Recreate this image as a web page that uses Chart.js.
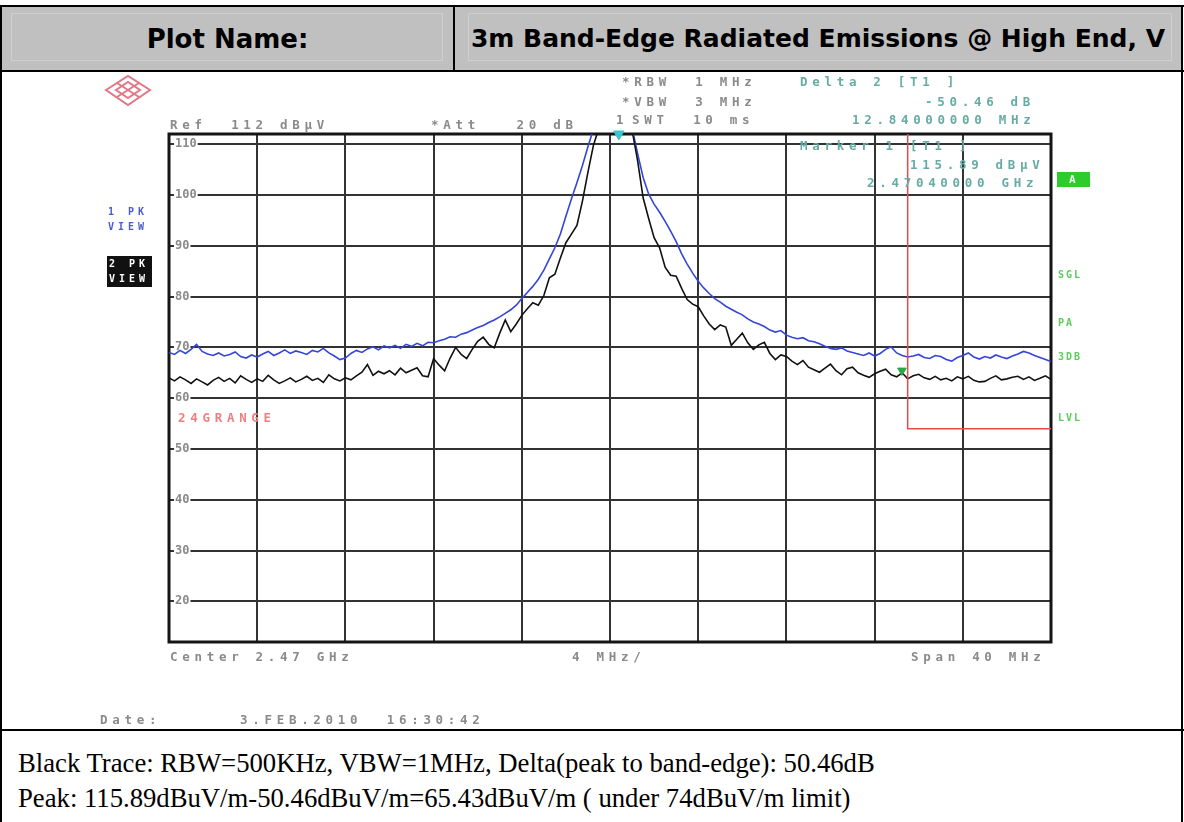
<!DOCTYPE html>
<html>
<head>
<meta charset="utf-8">
<title>3m Band-Edge Radiated Emissions @ High End, V</title>
<script src="https://cdn.jsdelivr.net/npm/chart.js@4.4.0/dist/chart.umd.min.js"></script>
<style>
  html, body { margin: 0; padding: 0; background: #fff; }
  #page { position: relative; width: 1184px; height: 822px; overflow: hidden; }
  .rule { position: absolute; background: #000; }
  .cell { position: absolute; background: #c0c0c0; display: flex; align-items: center; justify-content: center; }
  .inner { position: absolute; border: 1px solid #cfcfcf; }
  .head { font-family: "DejaVu Sans", Verdana, sans-serif; font-weight: bold; color: #000; white-space: nowrap; position: relative; }
  .sa { position: absolute; font-family: "DejaVu Sans Mono", monospace; font-weight: bold; font-size: 12.5px;
        letter-spacing: 4.7px; line-height: 12px; color: #8a8a8a; white-space: pre; }
  .teal { color: #66aca4; }
  .red { color: #ef8080; }
  .green { color: #5ccc5c; letter-spacing: 2px; font-size: 10px; }
  .blue { color: #4a5ad0; letter-spacing: 4px; font-size: 10px; }
  .inv { color: #fff; letter-spacing: 4px; font-size: 10px; }
  #chartBox { position: absolute; left: 0; top: 72px; width: 1184px; height: 657px; }
  .caption { position: absolute; left: 18px; font-family: "Liberation Serif", "Times New Roman", serif;
             font-size: 26.7px; line-height: 30px; color: #000; white-space: nowrap; }
</style>
</head>
<body>
<div id="page">
  <!-- header row -->
  <div class="cell" style="left:2px; top:7px; width:451px; height:63px;"><span class="head" style="font-size:26px;">Plot Name:</span></div>
  <div class="cell" style="left:455px; top:7px; width:726px; height:63px;"><span class="head" style="font-size:25px;">3m Band-Edge Radiated Emissions @ High End, V</span></div>
  <div class="inner" style="left:11px; top:13px; width:430px; height:46px;"></div>
  <div class="inner" style="left:468px; top:13px; width:702px; height:46px;"></div>

  <!-- table rules -->
  <div class="rule" style="left:0; top:5px; width:1184px; height:2px;"></div>
  <div class="rule" style="left:0; top:5px; width:2px; height:817px;"></div>
  <div class="rule" style="left:1181px; top:5px; width:2px; height:817px;"></div>
  <div class="rule" style="left:0; top:70px; width:1184px; height:2px;"></div>
  <div class="rule" style="left:453px; top:5px; width:2px; height:66px;"></div>
  <div class="rule" style="left:0; top:729px; width:1184px; height:2px;"></div>

  <!-- spectrum plot -->
  <div id="chartBox"><canvas id="spec" width="1184" height="657"></canvas></div>

  <!-- R&S logo -->
  <svg style="position:absolute; left:104px; top:74px;" width="48" height="33" viewBox="0 0 48 33">
    <g fill="none" stroke="#e07886" stroke-width="2">
      <polygon points="2,16 24,2 46,16 24,31"/>
      <polygon points="12,16 24,8 36,16 24,24"/>
      <line x1="13" y1="9" x2="35" y2="23"/>
      <line x1="35" y1="9" x2="13" y2="23"/>
    </g>
  </svg>

  <!-- analyzer annotations -->
  <div class="sa" style="left:170px; top:119px;">Ref  112 dBµV</div>
  <div class="sa" style="left:431px; top:119px;">*Att   20 dB</div>
  <div class="sa" style="left:622px; top:76px;">*RBW  1 MHz</div>
  <div class="sa" style="left:622px; top:96px;">*VBW  3 MHz</div>
  <div class="sa" style="left:616px; top:114px;">1</div>
  <div class="sa" style="left:632px; top:114px;">SWT  10 ms</div>
  <div class="sa teal" style="left:800px; top:76px;">Delta 2 [T1 ]</div>
  <div class="sa teal" style="left:925px; top:96px;">-50.46 dB</div>
  <div class="sa teal" style="left:852px; top:114px;">12.84000000 MHz</div>
  <div class="sa teal" style="left:800px; top:140px;">Marker 1 [T1 ]</div>
  <div class="sa teal" style="left:910px; top:159px;">115.89 dBµV</div>
  <div class="sa teal" style="left:867px; top:177px;">2.47040000 GHz</div>

  <div class="sa blue" style="left:108px; top:206px;">1 PK</div>
  <div class="sa blue" style="left:108px; top:221px;">VIEW</div>
  <div style="position:absolute; left:107px; top:256px; width:45px; height:31px; background:#111;"></div>
  <div class="sa inv" style="left:109px; top:258px;">2 PK</div>
  <div class="sa inv" style="left:109px; top:273px;">VIEW</div>

  <div style="position:absolute; left:1057px; top:172px; width:33px; height:15px; background:#2ccc2c;"></div>
  <div class="sa" style="left:1069px; top:174px; color:#eaffea; letter-spacing:0; font-size:11px;">A</div>
  <div class="sa green" style="left:1058px; top:269px;">SGL</div>
  <div class="sa green" style="left:1058px; top:317px;">PA</div>
  <div class="sa green" style="left:1058px; top:351px;">3DB</div>
  <div class="sa green" style="left:1058px; top:412px;">LVL</div>

  <div class="sa red" style="left:178px; top:412px;">24GRANGE</div>

  <div class="sa" style="left:170px; top:651px;">Center 2.47 GHz</div>
  <div class="sa" style="left:572px; top:651px;">4 MHz/</div>
  <div class="sa" style="left:911px; top:651px;">Span 40 MHz</div>
  <div class="sa" style="left:100px; top:714px;">Date:</div>
  <div class="sa" style="left:240px; top:714px;">3.FEB.2010  16:30:42</div>

  <!-- caption -->
  <div class="caption" style="top:748px;">Black Trace: RBW=500KHz, VBW=1MHz, Delta(peak to band-edge): 50.46dB</div>
  <div class="caption" style="top:783px;">Peak: 115.89dBuV/m-50.46dBuV/m=65.43dBuV/m ( under 74dBuV/m limit)</div>
</div>

<script>
// sweep settings (Center 2.47 GHz, Span 40 MHz)
const startMHz = 2450;
const stopMHz = 2490;
const sweepPoints = 161;
const refLevel = 112;     // dBuV, top of screen
const bottomLevel = 12;   // 10 dB/div

// grid / tick positions
const freqGrid = [2450, 2454, 2458, 2462, 2466, 2470, 2474, 2478, 2482, 2486, 2490];
const levelGrid = [20, 30, 40, 50, 60, 70, 80, 90, 100, 110];

// trace 1 (blue, RBW 1 MHz / VBW 3 MHz), dBuV per sweep point
const blueTrace = [
  69.0, 68.6, 69.4, 68.8, 69.6, 70.6, 69.2, 68.7,
  68.4, 68.9, 68.3, 68.6, 69.1, 68.2, 67.9, 68.5,
  68.1, 68.7, 69.2, 68.4, 68.9, 69.5, 68.8, 69.3,
  69.0, 68.6, 69.4, 69.1, 69.8, 68.9, 68.3, 67.6,
  67.9, 68.8, 69.4, 69.0, 69.7, 70.1, 69.5, 70.3,
  69.9, 70.4, 69.8, 70.6, 70.2, 70.8, 70.3, 71.0,
  70.9, 71.3, 71.6, 72.1, 72.0, 72.6, 72.9, 73.4,
  73.9, 74.3, 74.9, 75.4, 76.0, 76.7, 77.4, 78.3,
  79.6, 80.8, 82.0, 83.4, 85.2, 87.4, 89.6, 92.3,
  95.8, 99.2, 102.4, 105.8, 109.5, 113.0, 114.8, 115.4,
  115.7, 115.9, 115.6, 114.9, 113.2, 108.2, 103.5, 100.2,
  98.2, 96.6, 94.8, 92.9, 90.8, 88.4, 86.4, 84.6,
  83.0, 81.7, 80.6, 79.6, 78.9, 78.1, 77.5, 76.9,
  76.4, 75.6, 75.0, 74.6, 74.1, 73.4, 73.0, 73.3,
  72.4, 72.0, 71.7, 71.9, 71.3, 71.1, 70.7, 70.2,
  69.8, 69.6, 69.9, 69.3, 69.0, 68.7, 68.4, 68.9,
  68.3, 68.8, 69.6, 70.1, 68.9, 68.4, 68.1, 68.3,
  68.6, 68.0, 67.8, 68.4, 68.2, 67.6, 67.3, 68.0,
  68.4, 68.9, 68.1, 67.7, 68.2, 67.9, 68.5, 68.1,
  67.8, 68.3, 68.7, 69.2, 68.9, 68.4, 68.0, 67.6,
  67.2
];

// trace 2 (black, RBW 500 kHz / VBW 1 MHz)
const blackTrace = [
  64.0, 63.4, 64.2, 63.6, 62.9, 63.8, 63.2, 62.6,
  63.5, 64.1, 63.3, 63.9, 63.0, 64.4, 63.7, 63.1,
  63.8, 63.3, 64.5, 63.6, 62.9, 63.4, 64.0, 63.2,
  63.7, 64.3, 63.5, 63.9, 63.1, 64.6, 63.8, 63.4,
  64.0, 63.6, 64.4, 65.1, 66.6, 64.5, 65.3, 64.8,
  65.4, 64.6, 65.9, 65.0, 65.5, 66.0, 64.4, 64.2,
  67.8, 66.5, 65.4, 67.9, 70.0, 68.6, 67.8, 69.6,
  71.2, 72.0, 70.6, 69.9, 72.8, 75.4, 73.1, 74.6,
  76.3, 77.6, 78.8, 78.3, 80.2, 83.7, 84.4, 87.6,
  90.6, 92.3, 94.0, 98.8, 104.5, 109.8, 113.2, 114.6,
  115.2, 115.5, 115.1, 114.4, 112.8, 106.8, 99.5, 95.4,
  91.6, 89.6, 85.8, 84.2, 84.0, 81.6, 79.4, 78.5,
  78.0, 76.2, 74.6, 73.5, 74.4, 74.0, 70.4, 71.6,
  72.8, 70.9, 69.6, 70.5, 71.0, 68.8, 67.6, 68.5,
  68.2, 67.3, 66.6, 67.4, 66.1, 65.6, 65.1, 65.9,
  66.7, 65.4, 64.6, 65.8, 66.1, 65.0, 64.5, 64.1,
  64.8, 65.3, 65.7, 64.6, 64.2, 65.0, 63.8, 64.4,
  64.7, 64.0, 63.7, 64.3, 63.6, 63.9, 63.4, 64.2,
  63.8, 64.3, 63.5, 63.2, 63.3, 63.9, 64.4, 63.6,
  63.8, 64.1, 64.3, 63.7, 64.2, 63.5, 63.9, 64.4,
  63.7
];

// 2.4 GHz band-edge limit (red)
const limitFreqs = [2483.5, 2483.5, 2490];
const limitLevels = [112, 54, 54];

// markers: M1 peak, D2 band edge
const markerFreqs = [2470.4, 2483.24];
const markerLevels = [115.89, 65.43];
const markerColors = ['#3cc4cc', '#2aa84a'];

// sweep frequency of each trace point
const sweepFreqs = [];
for (let i = 0; i < sweepPoints; i++) {
  sweepFreqs.push(startMHz + i * (stopMHz - startMHz) / (sweepPoints - 1));
}

// frame around the graticule
const frameBorder = {
  id: 'frameBorder',
  beforeDatasetsDraw(chart) {
    const { ctx, chartArea: a } = chart;
    ctx.save();
    ctx.strokeStyle = '#151515';
    ctx.lineWidth = 3;
    ctx.strokeRect(a.left, a.top, a.right - a.left, a.bottom - a.top);
    ctx.restore();
  }
};

new Chart(document.getElementById('spec'), {
  type: 'line',
  data: {
    datasets: [
      {
        label: 'Markers',
        data: markerFreqs.map((f, i) => ({ x: f, y: Math.min(markerLevels[i], refLevel) })),
        showLine: false,
        pointStyle: 'triangle',
        rotation: 180,
        pointRadius: [6, 5],
        pointBackgroundColor: markerColors,
        pointBorderColor: markerColors,
        clip: false,
      },
      {
        label: 'Limit',
        data: limitFreqs.map((f, i) => ({ x: f, y: limitLevels[i] })),
        borderColor: '#e84a4a',
        borderWidth: 1.5,
        pointRadius: 0,
      },
      {
        label: 'Trace 2',
        data: sweepFreqs.map((f, i) => ({ x: f, y: blackTrace[i] })),
        borderColor: '#111111',
        borderWidth: 1.6,
        pointRadius: 0,
      },
      {
        label: 'Trace 1',
        data: sweepFreqs.map((f, i) => ({ x: f, y: blueTrace[i] })),
        borderColor: '#3545d8',
        borderWidth: 1.6,
        pointRadius: 0,
      },
    ]
  },
  options: {
    responsive: false,
    animation: false,
    events: [],
    layout: { autoPadding: false, padding: { left: 169, right: 133, top: 62, bottom: 87 } },
    plugins: { legend: { display: false }, tooltip: { enabled: false } },
    elements: { line: { tension: 0 } },
    scales: {
      x: {
        type: 'linear',
        min: startMHz,
        max: stopMHz,
        afterBuildTicks: s => { s.ticks = freqGrid.map(v => ({ value: v })); },
        afterFit: s => { s.height = 0; },
        ticks: { display: false },
        grid: { color: '#333333', lineWidth: 2, drawTicks: false },
        border: { display: false },
      },
      y: {
        type: 'linear',
        min: bottomLevel,
        max: refLevel,
        afterBuildTicks: s => { s.ticks = levelGrid.map(v => ({ value: v })); },
        afterFit: s => { s.width = 0; },
        ticks: {
          mirror: true,
          padding: 6,
          color: '#8a8a8a',
          font: { family: 'DejaVu Sans Mono', size: 12, weight: 'bold' },
          showLabelBackdrop: true,
          backdropColor: '#ffffff',
          backdropPadding: 1,
        },
        grid: { color: '#333333', lineWidth: 2, drawTicks: false },
        border: { display: false },
      },
    },
  },
  plugins: [frameBorder],
});
</script>
</body>
</html>
